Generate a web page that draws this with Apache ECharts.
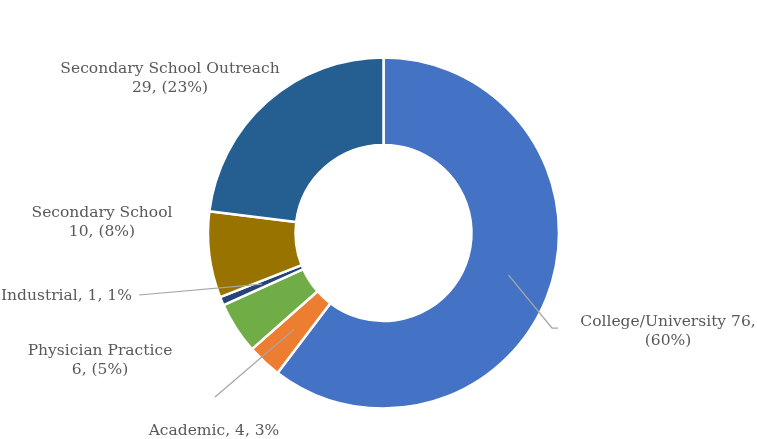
<!DOCTYPE html>
<html>
<head>
<meta charset="utf-8">
<script src="https://cdn.jsdelivr.net/npm/echarts@6/dist/echarts.min.js"></script>
<style>html,body{margin:0;padding:0;background:#fff}#c{width:757px;height:439px}</style>
</head>
<body>
<div id="c"></div>
<script>
const categories = ['College/University', 'Academic', 'Physician Practice', 'Industrial', 'Secondary School', 'Secondary School Outreach'];
const values = [76, 4, 6, 1, 10, 29];
const colors = ['#4472C4', '#ED7D31', '#70AD47', '#264478', '#997300', '#255E91'];
const labelFormats = ['{n} {v},\n({p}%)', '{n}, {v}, {p}%', '{n}\n{v}, ({p}%)', '{n}, {v}, {p}%', '{n}\n{v}, ({p}%)', '{n}\n{v}, ({p}%)'];
const showLine = [true, true, false, true, false, false];

// layout (label anchor positions, pixels)
const CX = 383.5, CY = 233, R0 = 88, R1 = 175.5;
const labelPos = [
  {x: 668, y: 331, align: 'center'},
  {x: 214, y: 431, align: 'center'},
  {x: 100, y: 360, align: 'center'},
  {x: 1, y: 296, align: 'left'},
  {x: 102, y: 222, align: 'center'},
  {x: 170, y: 78, align: 'center'}
];
const lineEnds = [
  [[552, 328], [558, 328]],
  [[215, 397], [215, 397]],
  null,
  [[139, 295], [139, 295]],
  null, null
];

const total = values.reduce((a, b) => a + b, 0);
function midAngle(i) {
  let before = 0;
  for (let k = 0; k < i; k++) before += values[k];
  const frac = (before + values[i] / 2) / total;
  return (90 - frac * 360) * Math.PI / 180;
}

const ringData = categories.map((n, i) => ({
  name: n,
  value: values[i],
  itemStyle: {color: colors[i]}
}));
const labelData = categories.map((n, i) => ({
  name: n,
  value: values[i],
  labelLine: {show: showLine[i]}
}));

const chart = echarts.init(document.getElementById('c'));
chart.setOption({
  animation: false,
  series: [{
    type: 'pie',
    z: 2,
    center: [CX, CY],
    radius: [R0, R1],
    startAngle: 90,
    clockwise: true,
    data: ringData,
    itemStyle: {borderColor: '#fff', borderWidth: 2.5},
    label: {show: false},
    labelLine: {show: false}
  }, {
    type: 'pie',
    z: 5,
    silent: true,
    center: [CX, CY],
    radius: [R0, R1],
    startAngle: 90,
    clockwise: true,
    data: labelData,
    itemStyle: {color: 'rgba(0,0,0,0)', borderWidth: 0},
    emphasis: {disabled: true},
    label: {
      show: true,
      position: 'outside',
      overflow: 'none',
      color: '#595959',
      fontFamily: 'DejaVu Serif',
      fontSize: 15.5,
      lineHeight: 19,
      align: 'center',
      formatter: function (p) {
        const pct = Math.round(p.value / total * 100);
        return labelFormats[p.dataIndex].replace('{n}', p.name).replace('{v}', p.value).replace('{p}', pct);
      }
    },
    labelLine: {lineStyle: {color: '#A6A6A6', width: 1.25}},
    labelLayout: function (params) {
      const i = params.dataIndex;
      const lp = labelPos[i];
      const out = {x: lp.x, y: lp.y, align: lp.align, verticalAlign: 'middle'};
      if (lineEnds[i]) {
        const a = midAngle(i);
        const rm = (R0 + R1) / 2;
        const start = [CX + rm * Math.cos(a), CY - rm * Math.sin(a)];
        out.labelLinePoints = [start, lineEnds[i][0], lineEnds[i][1]];
      }
      return out;
    }
  }]
});
</script>
</body>
</html>
